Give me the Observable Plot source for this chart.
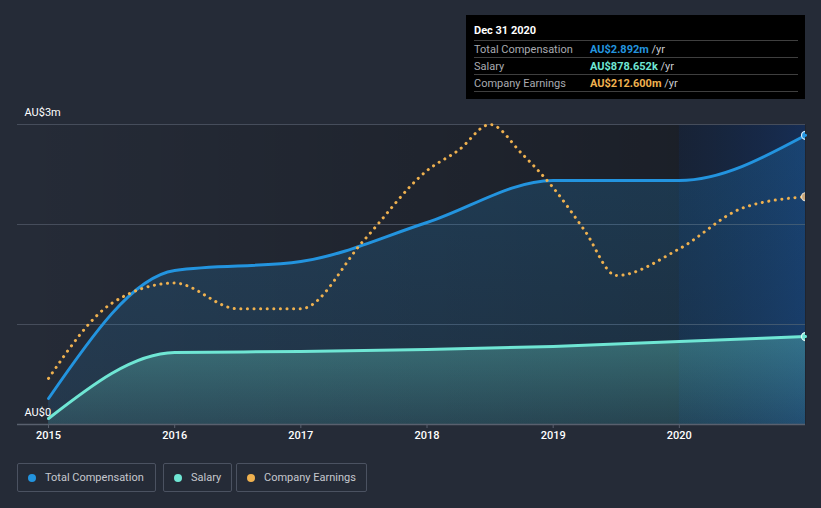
<!DOCTYPE html>
<html><head><meta charset="utf-8">
<script src="https://cdn.jsdelivr.net/npm/d3@7"></script>
<script src="https://cdn.jsdelivr.net/npm/@observablehq/plot@0.6"></script>
<style>
html,body{margin:0;padding:0;background:#252b37;font-family:Roboto,"Noto Sans",sans-serif;}
#wrap{position:relative;width:821px;height:508px;overflow:hidden;background:#252b37;}
#chart{position:absolute;left:0;top:0;}
#chart svg{display:block;}
.tip{position:absolute;left:466px;top:15px;width:339px;height:84px;background:#000;}
.tip .title{position:absolute;left:8px;top:9px;font-size:11px;font-weight:700;color:#fff;line-height:14px;}
.tip .sep{position:absolute;left:8px;width:324px;height:1px;background:#3f3f3f;}
.tip .row{position:absolute;left:8px;width:324px;height:17px;line-height:17px;font-size:11px;}
.tip .lab{position:absolute;left:0;color:#a9abb0;}
.tip .val{position:absolute;left:116px;font-weight:700;}
.tip .unit{color:#c9cbd0;font-weight:400;}
.legend{position:absolute;top:463px;left:0;}
.lg{position:absolute;top:0;height:27px;border:1px solid #4b5261;border-radius:2px;box-sizing:content-box;}
.lg .dot{position:absolute;left:10px;top:9.5px;width:8px;height:8px;border-radius:50%;}
.lg .txt{position:absolute;left:27px;top:0;line-height:27px;font-size:11px;color:#c5c8ce;white-space:nowrap;}
</style></head>
<body>
<div id="wrap">
  <div id="chart"></div>
  <div class="tip" id="tip"></div>
  <div class="legend" id="legend"></div>
</div>
<script>
// ---- data ----
const years = [2015, 2016, 2017, 2018, 2019, 2020, 2021];
const totalComp = [0.26, 1.54, 1.63, 2.02, 2.44, 2.44, 2.892];   // AU$m
const salary = [0.06, 0.72, 0.73, 0.75, 0.78, 0.83, 0.879];     // AU$m
const earnYears = [2015, 2015.5, 2016, 2016.5, 2017, 2017.5, 2018, 2018.25, 2018.5, 2018.75, 2019, 2019.25, 2019.5, 2020, 2020.5, 2021];
const earnings = [43, 113, 132, 108, 108, 172, 237, 256, 280, 253, 221, 181, 139, 164, 202, 212.6]; // AU$m
const tickYears = [2015, 2016, 2017, 2018, 2019, 2020];
const yLabelValues = [0, 3];
const yLabels = ["AU$0", "AU$3m"];
const gridValues = [1, 2, 3];
const xStart = 2014.754;
const highlightStart = 2020;
const seriesNames = ["Total Compensation", "Salary", "Company Earnings"];
const seriesColors = ["#2394df", "#6fe6d4", "#efb14f"];
const tipTitle = "Dec 31 2020";
const tipValues = ["AU$2.892m", "AU$878.652k", "AU$212.600m"];

// ---- tables ----
const comp = years.map((x, i) => ({x, v: totalComp[i]}));
const sal = years.map((x, i) => ({x, v: salary[i]}));
const earnMax = d3.max(earnings);
const earn = earnYears.map((x, i) => ({x, v: earnings[i] / earnMax * 3}));
const lastPts = [
  {x: years.at(-1), v: totalComp.at(-1), fill: "#2394df", stroke: "#d8ecfb"},
  {x: years.at(-1), v: salary.at(-1), fill: "#6fe6d4", stroke: "#e6fbf7"},
  {x: earnYears.at(-1), v: earnings.at(-1) / earnMax * 3, fill: "#c9a67a", stroke: "#e3dccf"}
];
const yLab = yLabelValues.map((v, i) => ({v, t: yLabels[i]}));

const defs = () => {
  const g = document.createElementNS("http://www.w3.org/2000/svg", "g");
  g.innerHTML = `<defs>
    <linearGradient id="bgGrad" x1="0" x2="1" y1="0" y2="0">
      <stop offset="0" stop-color="#000" stop-opacity="0"/>
      <stop offset="1" stop-color="#000" stop-opacity="0.32"/>
    </linearGradient>
    <linearGradient id="hlGrad" x1="0" x2="1" y1="0" y2="0">
      <stop offset="0" stop-color="#0f2a55" stop-opacity="0.30"/>
      <stop offset="1" stop-color="#143a7a" stop-opacity="0.55"/>
    </linearGradient>
    <linearGradient id="compGrad" x1="0" x2="0" y1="0" y2="1">
      <stop offset="0" stop-color="#2394df" stop-opacity="0.22"/>
      <stop offset="1" stop-color="#2394df" stop-opacity="0.12"/>
    </linearGradient>
    <linearGradient id="salGrad" x1="0" x2="0" y1="0" y2="1">
      <stop offset="0" stop-color="#6fe6d4" stop-opacity="0.32"/>
      <stop offset="1" stop-color="#6fe6d4" stop-opacity="0.12"/>
    </linearGradient>
  </defs>`;
  return g;
};

const chart = Plot.plot({
  width: 821, height: 455,
  marginTop: 124, marginBottom: 31, marginLeft: 17, marginRight: 16,
  x: {domain: [xStart, 2021], label: null},
  y: {domain: [0, 3], axis: null},
  style: {background: "transparent", color: "#fff", fontFamily: "Roboto, sans-serif", fontSize: "11px"},
  marks: [
    defs,
    Plot.frame({fill: "url(#bgGrad)", stroke: null}),
    Plot.rect([{x1: highlightStart, x2: 2021}], {x1: "x1", x2: "x2", y1: 0, y2: 3, fill: "url(#hlGrad)"}),
    Plot.ruleY(gridValues, {stroke: "#464d5b", strokeWidth: 1}),
    Plot.areaY(comp, {x: "x", y: "v", curve: "monotone-x", fill: "url(#compGrad)"}),
    Plot.areaY(sal, {x: "x", y: "v", curve: "monotone-x", fill: "url(#salGrad)"}),
    Plot.lineY(comp, {x: "x", y: "v", curve: "monotone-x", stroke: seriesColors[0], strokeWidth: 3}),
    Plot.lineY(sal, {x: "x", y: "v", curve: "monotone-x", stroke: seriesColors[1], strokeWidth: 3}),
    Plot.lineY(earn, {x: "x", y: "v", curve: "monotone-x", stroke: seriesColors[2], strokeWidth: 3,
      strokeDasharray: "0.1 6.5", strokeLinecap: "round"}),
    Plot.ruleY([0], {stroke: "#59606e", strokeWidth: 1.5}),
    Plot.dot(lastPts, {x: "x", y: "v", r: 4, fill: "fill", stroke: "stroke", strokeWidth: 1.2, clip: true}),
    Plot.text(yLab, {x: xStart, y: "v", text: "t", dx: 7, dy: -12, textAnchor: "start", fill: "#fff", fontSize: 11}),
    Plot.axisX({ticks: tickYears, tickFormat: d => String(d), tickSize: 4, tickPadding: 3,
      stroke: "#59606e", fill: "#fff", fontWeight: 500, fontSize: 11})
  ]
});
document.getElementById("chart").appendChild(chart);

// tooltip
const tip = document.getElementById("tip");
let html = `<div class="title">${tipTitle}</div>`;
const seps = [25, 42, 59, 76];
seps.forEach(s => html += `<div class="sep" style="top:${s}px"></div>`);
seriesNames.forEach((n, i) => {
  html += `<div class="row" style="top:${seps[i] + 1}px"><span class="lab">${n}</span><span class="val" style="color:${seriesColors[i]}">${tipValues[i]} <span class="unit">/yr</span></span></div>`;
});
tip.innerHTML = html;

// legend
const lgPos = [[17, 137], [163, 67], [236, 129]];
const legend = document.getElementById("legend");
legend.innerHTML = seriesNames.map((n, i) =>
  `<div class="lg" style="left:${lgPos[i][0]}px;width:${lgPos[i][1]}px"><span class="dot" style="background:${seriesColors[i]}"></span><span class="txt">${n}</span></div>`
).join("");
</script>
</body></html>
